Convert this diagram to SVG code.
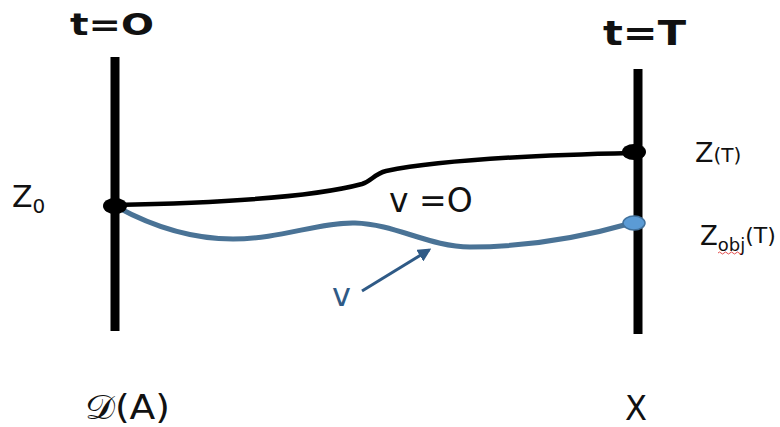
<svg xmlns="http://www.w3.org/2000/svg" width="780" height="427" viewBox="0 0 780 427">
<defs>
<style>
.lbl{font-family:"DejaVu Sans","Liberation Sans",sans-serif;fill:#111}
.axis{stroke:#000;stroke-width:9;fill:none}
</style>
<marker id="ah" viewBox="0 0 10 10" refX="8" refY="5" markerWidth="4.5" markerHeight="4.5" orient="auto">
<path d="M0,0 L10,5 L0,10 z" fill="#2f5a86"/>
</marker>
</defs>
<rect width="780" height="427" fill="#fff"/>
<g id="axis-left">
<line class="axis" x1="115" y1="57" x2="115" y2="331"/>
<text class="lbl" x="70" y="35" font-size="31" font-weight="bold" textLength="84" lengthAdjust="spacingAndGlyphs">t=O</text>
<text class="lbl" x="85" y="419" font-size="34" textLength="85" lengthAdjust="spacingAndGlyphs">𝒟(A)</text>
</g>
<g id="axis-right">
<line class="axis" x1="638" y1="69" x2="638" y2="334"/>
<text class="lbl" x="603" y="45" font-size="33" font-weight="bold" textLength="83" lengthAdjust="spacingAndGlyphs">t=T</text>
<text class="lbl" x="625" y="420" font-size="34" textLength="22" lengthAdjust="spacingAndGlyphs">X</text>
</g>
<g id="connectors">
<path d="M115,205 C220,203 310,198 362,184 C372,181 374,174 386,171 C440,160 540,155 632,153" fill="none" stroke="#000" stroke-width="4.5"/>
<path d="M117,207 C150,225 190,239 233,239 C280,239 320,222 355,223 C395,224 430,247 470,247 C530,247 590,235 632,223" fill="none" stroke="#4a7396" stroke-width="5"/>
<line x1="362" y1="291" x2="429" y2="250" stroke="#2f5a86" stroke-width="3" marker-end="url(#ah)"/>
</g>
<g id="z0">
<ellipse cx="115" cy="206" rx="12" ry="8" fill="#000"/>
<text class="lbl" x="12" y="207" font-size="30">Z<tspan font-size="20" dy="6">0</tspan></text>
</g>
<g id="zT">
<ellipse cx="634" cy="152" rx="12" ry="8" fill="#000"/>
<text class="lbl" x="695" y="162" font-size="27">Z<tspan font-size="20">(T)</tspan></text>
</g>
<g id="zobj">
<ellipse cx="634" cy="223" rx="11" ry="7" fill="#5b9bd5" stroke="#41719c" stroke-width="1.5"/>
<text class="lbl" x="700" y="245" font-size="26">Z<tspan font-size="18" dy="6">obj</tspan><tspan font-size="22" dy="-8">(T)</tspan></text>
<path d="M718,253 q1.5,-2 3,0 t3,0 t3,0 t3,0 t3,0 t3,0 t3,0 t3,0" fill="none" stroke="#d22" stroke-width="0.8"/>
</g>
<g id="v0">
<text class="lbl" x="389" y="212" font-size="33">v =O</text>
</g>
<g id="v">
<text x="332" y="306" font-size="32" font-family="DejaVu Sans,sans-serif" fill="#2f5a86">v</text>
</g>
</svg>
